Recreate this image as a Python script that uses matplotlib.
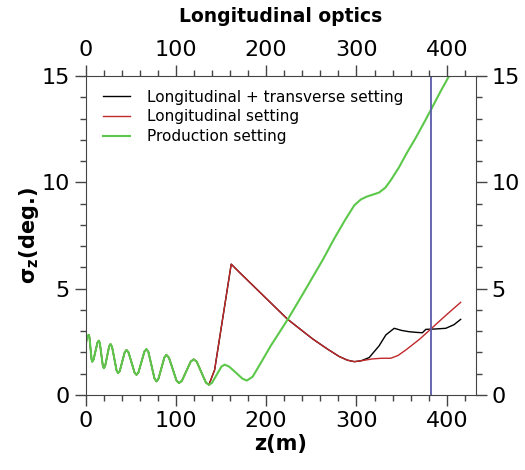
import matplotlib
matplotlib.use("Agg")
import matplotlib.pyplot as plt
from matplotlib.ticker import MultipleLocator

# shared oscillating part (all three settings overlap here)
z_common = [0, 1.1, 2.4, 3.6, 4.3, 5.45, 6.6, 7.3, 8.8, 11.0, 13.2, 14.7, 15.8, 17.45, 19.1, 20.2,
            21.7, 23.9, 26.1, 27.6, 29.3, 31.8, 34.3, 36, 37.9, 40.65, 43.4, 45.3,
            47.5, 50.85, 54.2, 56.4, 58.6, 61.9, 65.2, 67.4, 69.6, 72.95, 76.3, 78.5,
            80.7, 84, 87.3, 89.5, 92.3, 96.45, 100.6, 103.4, 106.7, 111.55, 116.4, 119.7,
            123.1, 128.15, 133.2, 136.6]
s_common = [2.3, 2.58, 2.78, 2.82, 2.70, 2.19, 1.68, 1.56, 1.65, 2.06, 2.46, 2.55, 2.43, 1.90, 1.37, 1.25,
            1.36, 1.82, 2.28, 2.39, 2.26, 1.71, 1.15, 1.02, 1.12, 1.57, 2.01, 2.11,
            2.0, 1.53, 1.05, 0.94, 1.06, 1.55, 2.04, 2.15, 2.01, 1.39, 0.77, 0.63,
            0.75, 1.26, 1.76, 1.88, 1.75, 1.22, 0.68, 0.55, 0.66, 1.11, 1.56, 1.67,
            1.56, 1.07, 0.58, 0.47]

# longitudinal setting after the common part
z_red = [142.9, 161.3, 170.5, 185, 203.6, 223.9, 251.5, 268, 281, 290, 297.6, 305, 317.8, 328,
         338, 346, 354.7, 370, 385, 400, 415.4]
s_red = [1.17, 6.15, 5.76, 5.16, 4.39, 3.55, 2.63, 2.15, 1.8, 1.63, 1.56, 1.6, 1.69, 1.72,
         1.72, 1.85, 2.11, 2.62, 3.2, 3.78, 4.35]

# longitudinal + transverse setting after the common part
z_black = [142.9, 161.3, 170.5, 185, 203.6, 223.9, 251.5, 268, 281, 290, 297.6, 305, 314, 325,
           332.6, 341.8, 350, 358.3, 366, 373, 376.8, 388, 398.9, 408, 415.4]
s_black = [1.17, 6.15, 5.76, 5.16, 4.39, 3.55, 2.63, 2.15, 1.8, 1.63, 1.56, 1.6, 1.75, 2.3,
           2.82, 3.13, 3.03, 2.97, 2.94, 2.92, 3.08, 3.1, 3.13, 3.3, 3.55]

# production setting after the common part
z_green = [140, 145.3, 150.5, 154, 158.9, 166.3, 173.7, 178.6, 185, 192, 205, 223.9, 240, 262.5,
           275.5, 287, 297.6, 305, 312, 318, 325, 332, 338, 347, 356, 365.7, 376, 386, 394, 402.5]
s_green = [0.56, 0.95, 1.33, 1.42, 1.33, 1.05, 0.76, 0.67, 0.85, 1.35, 2.3, 3.55, 4.7, 6.34,
           7.36, 8.2, 8.92, 9.2, 9.34, 9.42, 9.52, 9.75, 10.1, 10.7, 11.4, 12.1, 12.9, 13.7, 14.35, 15.0]

z_marker = 383

fig = plt.figure(figsize=(5.25, 4.7), dpi=100)
ax = fig.add_axes([0.163, 0.160, 0.743, 0.678])

ax.plot(z_common + z_black, s_common + s_black, color="black", lw=1,
        label="Longitudinal + transverse setting")
ax.plot(z_common + z_red, s_common + s_red, color="#c0282a", lw=1,
        label="Longitudinal setting")
ax.plot(z_common + z_green, s_common + s_green, color="#5cc84a", lw=1.5,
        label="Production setting")
ax.axvline(z_marker, color="#5a5aa8", lw=1.3)

ax.set_xlim(0, 432)
ax.set_ylim(0, 15)
ax.xaxis.set_major_locator(MultipleLocator(100))
ax.xaxis.set_minor_locator(MultipleLocator(20))
ax.yaxis.set_major_locator(MultipleLocator(5))
ax.yaxis.set_minor_locator(MultipleLocator(1))
ax.tick_params(which="both", direction="out", top=True, right=True,
               labeltop=True, labelright=True, labelsize=16, color="#444444")
ax.tick_params(which="major", length=8, width=1)
ax.tick_params(which="minor", length=4, width=1)
for sp in ax.spines.values():
    sp.set_color("#444444")

ax.set_title("Longitudinal optics", fontsize=13.5, fontweight="bold", pad=13)
ax.set_xlabel("z(m)", fontsize=15, fontweight="bold", labelpad=2)
ax.set_ylabel(r"σ$_\mathbf{z}$(deg.)", fontsize=15, fontweight="bold", labelpad=0)

ax.legend(loc="upper left", frameon=False, fontsize=11, handlelength=1.8,
          handletextpad=1.1, borderaxespad=0.6, labelspacing=0.3,
          bbox_to_anchor=(0.005, 1.005))

fig.savefig("out.png", dpi=100)
